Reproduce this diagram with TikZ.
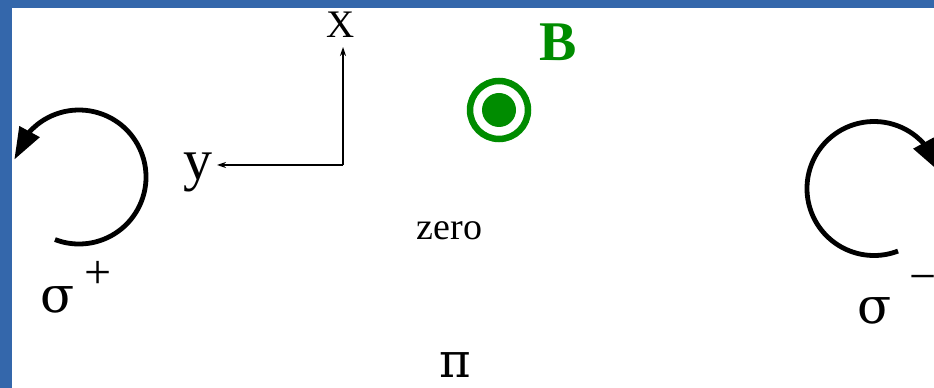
\documentclass[tikz,border=0pt]{standalone}
\usepackage{fontspec}
\setmainfont{Liberation Serif}
\newfontfamily\grk{DejaVu Serif}
\usetikzlibrary{arrows.meta,bending}
\definecolor{slideblue}{RGB}{52,103,171}
\definecolor{fieldgreen}{RGB}{0,140,0}
\newcommand{\fsz}[1]{\fontsize{#1}{#1}\selectfont}

\begin{document}
\begin{tikzpicture}[x=1pt,y=1pt,
  circ/.style={line width=4.8pt,-{Triangle[length=32pt,width=22pt]}},
  axis/.style={line width=1.3pt,-{Stealth[length=9pt,width=6pt]}},
  lbl/.style={inner sep=0pt,anchor=base}]
  \useasboundingbox (0,0) rectangle (934,388);
  \clip (0,0) rectangle (934,388);
  % slide frame
  \fill[slideblue] (0,380) rectangle (934,388);
  \fill[slideblue] (0,0) rectangle (12,388);
  % axes
  \coordinate (o) at (343,223);
  \coordinate (xtip) at (343,341);
  \coordinate (ytip) at (217,223);
  \draw[axis] (o) -- (xtip);
  \draw[axis] (o) -- (ytip);
  \node[lbl,font=\fsz{39}] (xlab) at (341,350) {X};
  \node[lbl,font=\fsz{58}] (ylab) at (198,208) {y};
  % field out of the page
  \node[lbl,font=\fsz{56}\bfseries,text=fieldgreen] (blab) at (558,327) {B};
  \node[circle,draw=fieldgreen,line width=6.5pt,minimum size=58pt,inner sep=0pt] (bring) at (499,278) {};
  \node[circle,fill=fieldgreen,minimum size=34pt,inner sep=0pt] (bdot) at (bring) {};
  \node[lbl,font=\fsz{38}] (zero) at (449.5,148) {zero};
  \node[lbl,font=\grk\fsz{48}] (pi) at (455,10) {π};
  % circular polarisations
  \coordinate (lc) at (79,211);
  \coordinate (rc) at (874,199.5);
  \draw[circ] (lc) ++(-111:67) arc[start angle=-111,end angle=165,radius=67];
  \draw[circ] (rc) ++(-69:67) arc[start angle=-69,end angle=-345,radius=67];
  \node[lbl,anchor=base west,font=\grk\fsz{50}] (sp) at (40,75) {σ};
  \node[inner sep=0pt,font=\fsz{48}] (spl) at (98,113) {+};
  \node[lbl,anchor=base west,font=\grk\fsz{50}] (sm) at (857,64) {σ};
  \node[inner sep=0pt,font=\fsz{48}] (smi) at (923,104) {−};
\end{tikzpicture}
\end{document}
